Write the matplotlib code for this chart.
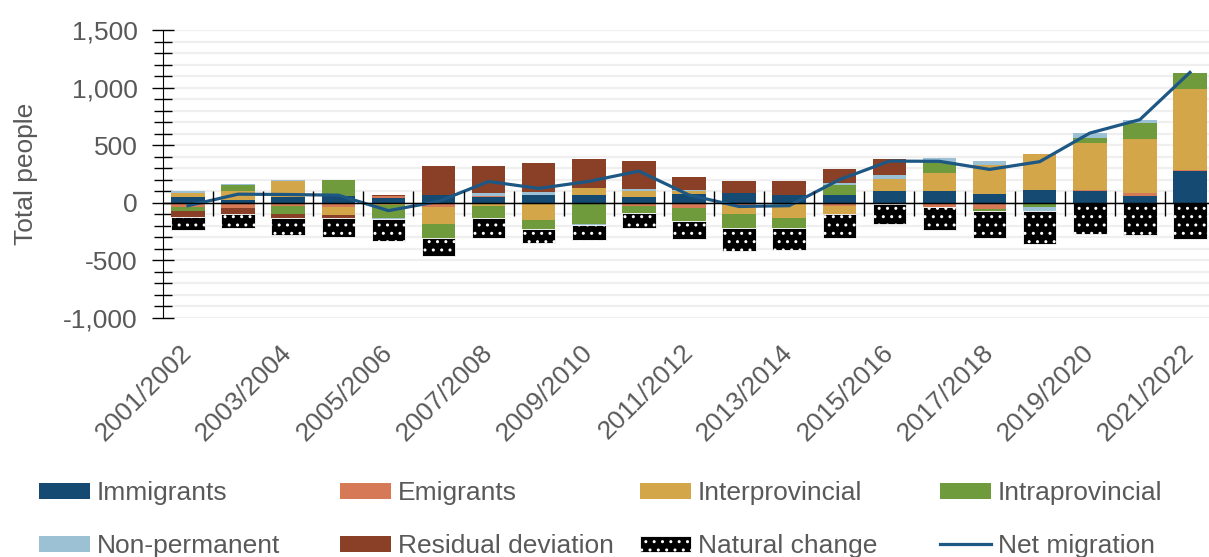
import numpy as np
import matplotlib.pyplot as plt
from matplotlib.patches import Patch
from matplotlib.lines import Line2D
from matplotlib.ticker import FuncFormatter

plt.rcParams['font.family'] = ['Liberation Sans', 'DejaVu Sans']

years = ["2001/2002", "2002/2003", "2003/2004", "2004/2005", "2005/2006", "2006/2007",
         "2007/2008", "2008/2009", "2009/2010", "2010/2011", "2011/2012", "2012/2013",
         "2013/2014", "2014/2015", "2015/2016", "2016/2017", "2017/2018", "2018/2019",
         "2019/2020", "2020/2021", "2021/2022"]

immigrants = [49, 20, 50, 57, 43, 72, 52, 66, 66, 49, 80, 86, 72, 72, 100, 106, 80, 115, 103, 57, 273]
emigrants = [-37, -43, -29, -37, 12, -37, 10, 0, 0, -29, -49, -20, 0, -29, 0, -40, -50, 0, 11, 29, 14]
interprovincial = [37, 85, 142, -67, -20, -144, -25, -149, 63, 57, 26, -75, -129, -66, 109, 152, 250, 310, 408, 468, 698]
intraprovincial = [-35, 52, -72, 144, -110, -126, -105, -75, -187, -63, -109, -126, -86, 80, -14, 95, -22, -37, 43, 135, 144]
non_permanent = [14, 10, 9, 0, -10, 0, 20, 29, -9, 17, 9, 0, 0, 20, 34, 38, 29, -34, 37, 29, 0]
residual = [-49, -52, -29, -29, 15, 244, 238, 250, 253, 244, 109, 106, 121, 121, 138, 0, 0, 0, 0, 0, 0]
natural_change = [-115, -125, -152, -167, -195, -152, -178, -129, -129, -129, -158, -201, -195, -207, -172, -198, -230, -285, -267, -279, -316]
net_migration = [-25, 75, 72, 66, -68, 12, 185, 125, 186, 275, 68, -32, -25, 200, 362, 360, 290, 357, 605, 722, 1132]

series = [
    ("Immigrants", immigrants, "#154b72"),
    ("Emigrants", emigrants, "#d57956"),
    ("Interprovincial", interprovincial, "#d3a64a"),
    ("Intraprovincial", intraprovincial, "#709b3d"),
    ("Non-permanent", non_permanent, "#9cc0d4"),
    ("Residual deviation", residual, "#8a4027"),
]
text_color = "#595959"
fs = 19

fig = plt.figure(figsize=(12.09, 5.57), dpi=100)
ax = fig.add_axes([163 / 1209, 1 - 318 / 557, (1215 - 163) / 1209, (318 - 30) / 557])

x = np.arange(len(years))
width = 0.67
pos_base = np.zeros(len(years))
neg_base = np.zeros(len(years))
handles = []
for name, vals, color in series:
    v = np.array(vals, dtype=float)
    bottom = np.where(v >= 0, pos_base, neg_base)
    ax.bar(x, v, width, bottom=bottom, color=color, linewidth=0, zorder=2)
    pos_base += np.where(v >= 0, v, 0)
    neg_base += np.where(v < 0, v, 0)
    handles.append(Patch(facecolor=color, label=name))

nc = np.array(natural_change, dtype=float)
ax.bar(x, nc, width, bottom=np.where(nc >= 0, pos_base, neg_base), color="black",
       edgecolor="white", hatch="..", linewidth=0.6, zorder=2)
handles.append(Patch(facecolor="black", edgecolor="white", hatch="..", linewidth=0.6, label="Natural change"))

ax.plot(x, net_migration, color="#1d5784", lw=2.3, zorder=4)
handles.append(Line2D([], [], color="#1d5784", lw=2.3, label="Net migration"))

ax.set_xlim(-0.5, len(years) - 0.5)
ax.set_ylim(-1000, 1500)
ax.set_yticks(np.arange(-1000, 1501, 500))
ax.set_yticks(np.arange(-1000, 1501, 100), minor=True)
ax.yaxis.set_major_formatter(FuncFormatter(lambda v, p: f"{v:,.0f}"))
ax.yaxis.grid(True, which="both", color="#efefef", lw=1.6)
ax.set_axisbelow(True)
for s in ["top", "right", "bottom"]:
    ax.spines[s].set_visible(False)
ax.spines["left"].set_color("black")
ax.tick_params(axis="y", which="major", direction="inout", length=16, width=1,
               labelsize=fs, labelcolor=text_color, pad=10)
ax.tick_params(axis="y", which="minor", direction="inout", length=13, width=1)

ax.set_xticks(x[::2], years[::2], rotation=45, ha="right", va="center", rotation_mode="anchor")
ax.tick_params(axis="x", length=0, labelsize=fs, labelcolor=text_color, pad=22)

ax.set_ylabel("Total people", fontsize=fs, color=text_color, labelpad=18)

# zero line with category separators
ax.axhline(0, color="black", lw=1, zorder=3)
zero = ax.secondary_xaxis(1000 / 2500)
zero.set_zorder(5)
zero.set_xticks(np.arange(0.5, len(years) - 1, 1))
zero.tick_params(direction="inout", length=18, width=1, labelbottom=False, labeltop=False)
zero.spines["bottom"].set_color("black")

col_x = [39, 340, 640, 940]
for i, cx in enumerate(col_x):
    fig.legend(handles=[handles[i], handles[i + 4]], loc="upper left",
               bbox_to_anchor=(cx / 1209, 1 - 481 / 557), frameon=False, fontsize=fs,
               labelcolor=text_color, handlelength=1.95, handleheight=0.55,
               handletextpad=0.25, labelspacing=1.1, borderpad=0, borderaxespad=0)

fig.savefig("out.png", dpi=100)
